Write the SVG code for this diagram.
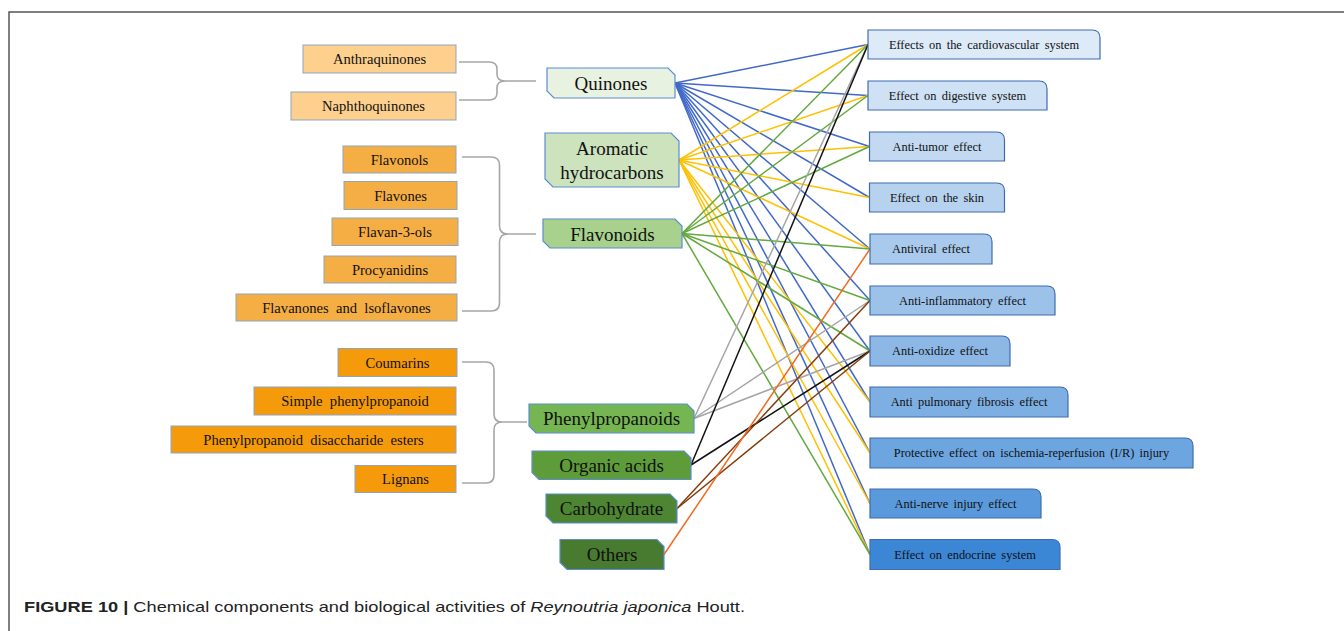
<svg xmlns="http://www.w3.org/2000/svg" width="1344" height="631" viewBox="0 0 1344 631">
<style>
.sub{stroke:#8FA5BE;stroke-width:1}
.q{fill:#FDD08E}.f{fill:#F5AE43}.p{fill:#F59A0A}
.cat{stroke:#5B8DD0;stroke-width:1.2}
.eff{stroke:#3F6CB0;stroke-width:1.2}
.t14{font-family:"Liberation Serif",serif;font-size:14.6px;fill:#111;text-anchor:middle}
.t19{font-family:"Liberation Serif",serif;font-size:19px;fill:#111;text-anchor:middle}
.t12{font-family:"Liberation Serif",serif;font-size:12.4px;fill:#111;text-anchor:middle;word-spacing:2.2px}
.brace{fill:none;stroke:#A6A6A6;stroke-width:1.6}
.c line{stroke-width:1.5}
.bl{stroke:#4169C8}.ye{stroke:#FFC000}.gr{stroke:#62A93E}.gy{stroke:#A5A5A5}.bk{stroke:#111}.br{stroke:#843C0C}.or{stroke:#F06A1E}
</style>
<rect width="1344" height="631" fill="#fff"/>
<path d="M9,631 L9,12 L1344,12" fill="none" stroke="#555" stroke-width="1.5"/>

<g id="braces">
<path class="brace" d="M459,62 L489,62 Q497,62 497,69 L497,74 Q497,81 505,81 Q497,81 497,88 L497,93 Q497,100 489,100 L459,100 M505,81 L536,81"/>
<path class="brace" d="M462,157 L491,157 Q499.5,157 499.5,165 L499.5,226 Q499.5,234 508,234 Q499.5,234 499.5,242 L499.5,303 Q499.5,311 491,311 L462,311 M508,234 L536,234"/>
<path class="brace" d="M462,362 L486,362 Q494,362 494,370 L494,414 Q494,422 502,422 Q494,422 494,430 L494,475 Q494,483 486,483 L462,483 M502,422 L527,422"/>
</g>

<g id="connectors" class="c">
<g class="bl">
<line x1="675" y1="83" x2="868" y2="44.5"/>
<line x1="675" y1="83" x2="868" y2="95.5"/>
<line x1="675" y1="83" x2="869.5" y2="146.5"/>
<line x1="675" y1="83" x2="869.5" y2="197.5"/>
<line x1="675" y1="83" x2="870" y2="249"/>
<line x1="675" y1="83" x2="870" y2="300.5"/>
<line x1="675" y1="83" x2="870" y2="351"/>
<line x1="675" y1="83" x2="870" y2="402"/>
<line x1="675" y1="83" x2="870" y2="453"/>
<line x1="675" y1="83" x2="870" y2="503.5"/>
<line x1="675" y1="83" x2="870" y2="554.5"/>
</g>
<g class="ye">
<line x1="679" y1="160" x2="868" y2="44.5"/>
<line x1="679" y1="160" x2="868" y2="95.5"/>
<line x1="679" y1="160" x2="869.5" y2="146.5"/>
<line x1="679" y1="160" x2="869.5" y2="197.5"/>
<line x1="679" y1="160" x2="870" y2="249"/>
<line x1="679" y1="160" x2="870" y2="402"/>
<line x1="679" y1="160" x2="870" y2="453"/>
<line x1="679" y1="160" x2="870" y2="503.5"/>
<line x1="679" y1="160" x2="870" y2="554.5"/>
</g>
<g class="gr">
<line x1="682" y1="233.5" x2="868" y2="44.5"/>
<line x1="682" y1="233.5" x2="868" y2="95.5"/>
<line x1="682" y1="233.5" x2="869.5" y2="146.5"/>
<line x1="682" y1="233.5" x2="870" y2="249"/>
<line x1="682" y1="233.5" x2="870" y2="300.5"/>
<line x1="682" y1="233.5" x2="870" y2="351"/>
<line x1="682" y1="233.5" x2="870" y2="554.5"/>
</g>
<g class="gy">
<line x1="694" y1="418.5" x2="868" y2="44.5"/>
<line x1="694" y1="418.5" x2="870" y2="300.5"/>
<line x1="694" y1="418.5" x2="870" y2="351"/>
</g>
<g class="bk">
<line x1="691" y1="465" x2="868" y2="44.5"/>
<line x1="691" y1="465" x2="870" y2="351"/>
</g>
<g class="br">
<line x1="677" y1="508.5" x2="870" y2="300.5"/>
<line x1="677" y1="508.5" x2="870" y2="351"/>
</g>
<g class="or">
<line x1="664" y1="554.5" x2="870" y2="249"/>
</g>
</g>

<g id="anthraquinones"><rect class="sub q" x="303" y="45" width="153" height="28"/><text class="t14" x="379.5" y="64">Anthraquinones</text></g>
<g id="naphthoquinones"><rect class="sub q" x="291" y="92" width="165" height="28"/><text class="t14" x="373.5" y="111">Naphthoquinones</text></g>
<g id="flavonols"><rect class="sub f" x="343" y="146" width="113" height="27"/><text class="t14" x="399.5" y="164.5">Flavonols</text></g>
<g id="flavones"><rect class="sub f" x="344" y="181.5" width="113" height="28"/><text class="t14" x="400.5" y="200.5">Flavones</text></g>
<g id="flavan3ols"><rect class="sub f" x="332" y="218" width="126" height="27.5"/><text class="t14" x="395" y="236.8">Flavan-3-ols</text></g>
<g id="procyanidins"><rect class="sub f" x="324" y="256" width="132" height="27"/><text class="t14" x="390" y="274.5">Procyanidins</text></g>
<g id="flavanones"><rect class="sub f" x="236" y="294" width="221" height="27"/><text class="t14" x="346.5" y="312.5" xml:space="preserve">Flavanones  and  lsoflavones</text></g>
<g id="coumarins"><rect class="sub p" x="338" y="348.5" width="119" height="28"/><text class="t14" x="397.5" y="367.5">Coumarins</text></g>
<g id="simple"><rect class="sub p" x="254" y="387" width="202" height="28"/><text class="t14" x="355" y="406" xml:space="preserve">Simple  phenylpropanoid</text></g>
<g id="disaccharide"><rect class="sub p" x="171" y="426" width="285" height="27"/><text class="t14" x="313.5" y="444.5" xml:space="preserve">Phenylpropanoid  disaccharide  esters</text></g>
<g id="lignans"><rect class="sub p" x="355" y="465.5" width="101" height="27"/><text class="t14" x="405.5" y="484">Lignans</text></g>

<g id="quinones"><path class="cat" fill="#E8F2E1" d="M547,68 L668,68 L675,75 L675,98 L554,98 L547,91 Z"/><text class="t19" x="611" y="89.5">Quinones</text></g>
<g id="aromatic"><path class="cat" fill="#CCE3BE" d="M545,133 L671,133 L679,141 L679,187 L553,187 L545,179 Z"/><text class="t19" x="612" y="154.5">Aromatic</text><text class="t19" x="612" y="178.5">hydrocarbons</text></g>
<g id="flavonoids"><path class="cat" fill="#A9D18E" d="M543,219 L675,219 L682,226 L682,248 L550,248 L543,241 Z"/><text class="t19" x="612.5" y="240.5">Flavonoids</text></g>
<g id="phenylpropanoids"><path class="cat" fill="#76B652" d="M529,404 L687,404 L694,411 L694,433 L536,433 L529,426 Z"/><text class="t19" x="611.5" y="425">Phenylpropanoids</text></g>
<g id="organic"><path class="cat" fill="#5E9C3A" d="M532,451 L684,451 L691,458 L691,479.5 L539,479.5 L532,472.5 Z"/><text class="t19" x="611.5" y="471.5">Organic acids</text></g>
<g id="carbohydrate"><path class="cat" fill="#4E8533" d="M546,494 L670,494 L677,501 L677,523 L553,523 L546,516 Z"/><text class="t19" x="611.5" y="515">Carbohydrate</text></g>
<g id="others"><path class="cat" fill="#487A30" d="M560,539.5 L657,539.5 L664,546.5 L664,569.5 L567,569.5 L560,562.5 Z"/><text class="t19" x="612" y="561">Others</text></g>

<g id="cardio"><path class="eff" fill="#DDEAF7" d="M868,30 L1092,30 Q1100,30 1100,38 L1100,59 L868,59 Z"/><text class="t12" x="984" y="48.5">Effects on the cardiovascular system</text></g>
<g id="digestive"><path class="eff" fill="#CFE1F4" d="M868,81 L1039,81 Q1047,81 1047,89 L1047,110 L868,110 Z"/><text class="t12" x="957.5" y="99.5">Effect on digestive system</text></g>
<g id="tumor"><path class="eff" fill="#C2D9F1" d="M869.5,132 L996.5,132 Q1004.5,132 1004.5,140 L1004.5,161 L869.5,161 Z"/><text class="t12" x="937" y="150.5">Anti-tumor effect</text></g>
<g id="skin"><path class="eff" fill="#B7D2EF" d="M869.5,183 L996.5,183 Q1004.5,183 1004.5,191 L1004.5,212 L869.5,212 Z"/><text class="t12" x="937" y="201.5">Effect on the skin</text></g>
<g id="antiviral"><path class="eff" fill="#A9CAEC" d="M870,234 L984,234 Q992,234 992,242 L992,264 L870,264 Z"/><text class="t12" x="931" y="253">Antiviral effect</text></g>
<g id="inflam"><path class="eff" fill="#9CC2E9" d="M870,286 L1047,286 Q1055,286 1055,294 L1055,315 L870,315 Z"/><text class="t12" x="962.5" y="304.5">Anti-inflammatory effect</text></g>
<g id="oxidize"><path class="eff" fill="#8DB8E6" d="M870,336 L1002,336 Q1010,336 1010,344 L1010,366 L870,366 Z"/><text class="t12" x="940" y="355">Anti-oxidize effect</text></g>
<g id="pulmonary"><path class="eff" fill="#7EAFE3" d="M870,387 L1060,387 Q1068,387 1068,395 L1068,417 L870,417 Z"/><text class="t12" x="969" y="406">Anti pulmonary fibrosis effect</text></g>
<g id="protective"><path class="eff" fill="#6DA5E0" d="M870,438 L1185,438 Q1193,438 1193,446 L1193,468 L870,468 Z"/><text class="t12" x="1031.5" y="457">Protective effect on ischemia-reperfusion (I/R) injury</text></g>
<g id="nerve"><path class="eff" fill="#5A9ADC" d="M870,489 L1033,489 Q1041,489 1041,497 L1041,518 L870,518 Z"/><text class="t12" x="955.5" y="507.5">Anti-nerve injury effect</text></g>
<g id="endocrine"><path class="eff" fill="#3B87D6" d="M870,539.5 L1052,539.5 Q1060,539.5 1060,547.5 L1060,569.5 L870,569.5 Z"/><text class="t12" x="965" y="558.5">Effect on endocrine system</text></g>

<text x="24" y="612" font-family="'Liberation Sans',Arial,sans-serif" font-size="14.5" fill="#222" textLength="721" lengthAdjust="spacingAndGlyphs"><tspan font-weight="bold">FIGURE 10 | </tspan>Chemical components and biological activities of <tspan font-style="italic">Reynoutria japonica</tspan> Houtt.</text>
</svg>
